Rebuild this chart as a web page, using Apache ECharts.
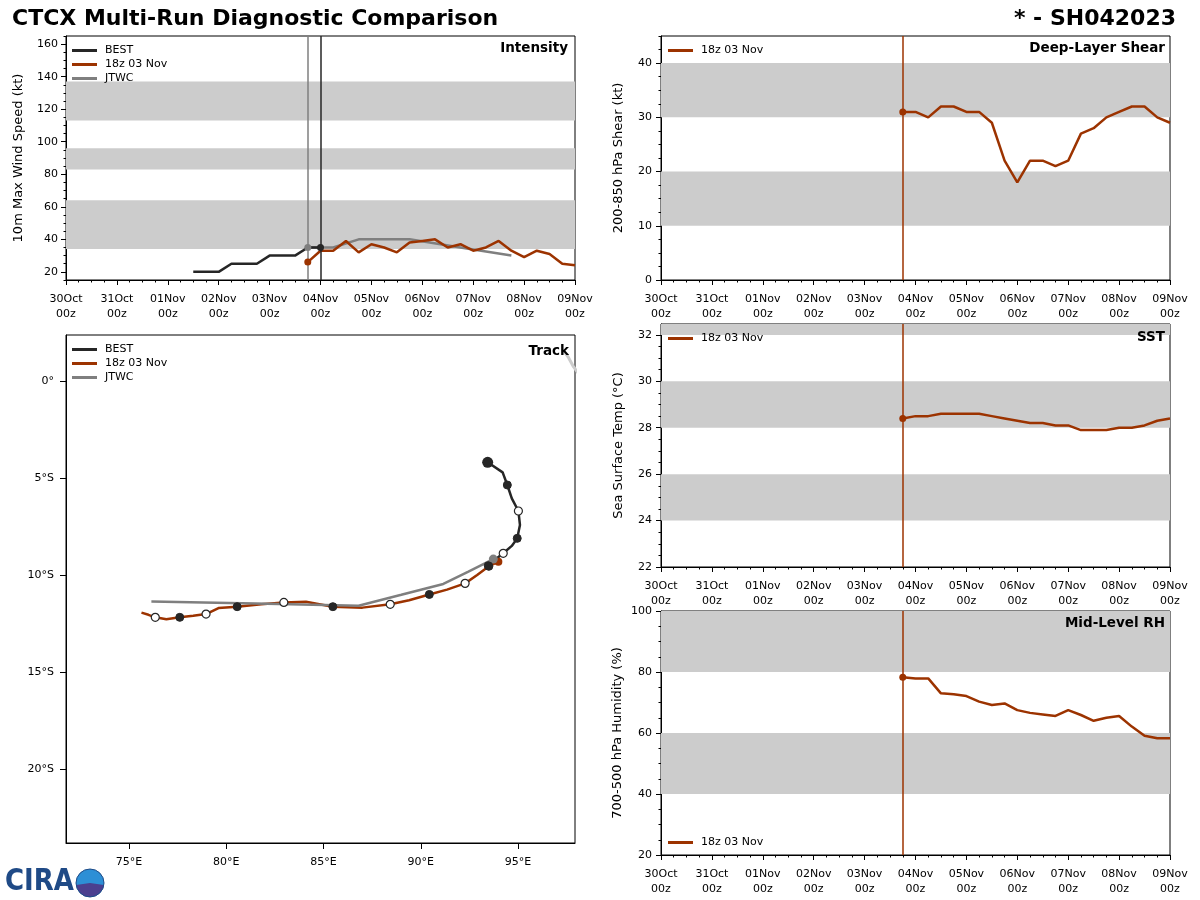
<!DOCTYPE html>
<html>
<head>
<meta charset="utf-8">
<title>CTCX Multi-Run Diagnostic Comparison</title>
<script src="https://cdn.jsdelivr.net/npm/echarts@6/dist/echarts.min.js"></script>
<style>
  html, body { margin: 0; padding: 0; background: #fff; }
  #chart { width: 1200px; height: 900px; }
</style>
</head>
<body>
<div id="chart"></div>
<script>
// tick labels (hours from 30Oct 00z, one label per day)
var dayLabels = ['30Oct', '31Oct', '01Nov', '02Nov', '03Nov', '04Nov', '05Nov', '06Nov', '07Nov', '08Nov', '09Nov'];

// best track
var bestHours = [60, 66, 72, 78, 84, 90, 96, 102, 108, 114, 120];
var bestVmax = [20, 20, 20, 25, 25, 25, 30, 30, 30, 35, 35];
var bestLon = [93.44, 94.21, 94.45, 94.68, 95.02, 95.10, 94.96, 94.68, 94.24, 93.80, 93.47];
var bestLat = [-4.19, -4.71, -5.36, -6.05, -6.70, -7.42, -8.11, -8.50, -8.88, -9.22, -9.52];

// 18z 03 Nov run
var fcstHours = [114, 120, 126, 132, 138, 144, 150, 156, 162, 168, 174, 180, 186, 192, 198, 204, 210, 216, 222, 228, 234, 240];
var fcstVmax = [26, 33, 33, 39, 32, 37, 35, 32, 38, 39, 40, 35, 37, 33, 35, 39, 33, 29, 33, 31, 25, 24];
var fcstShear = [31, 31, 30, 32, 32, 31, 31, 29, 22, 18, 22, 22, 21, 22, 27, 28, 30, 31, 32, 32, 30, 29];
var fcstSst = [28.4, 28.5, 28.5, 28.6, 28.6, 28.6, 28.6, 28.5, 28.4, 28.3, 28.2, 28.2, 28.1, 28.1, 27.9, 27.9, 27.9, 28.0, 28.0, 28.1, 28.3, 28.4];
var fcstRh = [78.3, 77.9, 77.9, 73.0, 72.7, 72.1, 70.3, 69.2, 69.7, 67.5, 66.6, 66.1, 65.6, 67.5, 65.9, 64.0, 65.0, 65.6, 62.1, 59.1, 58.3, 58.3];
var fcstLon = [93.99, 93.50, 92.90, 92.28, 91.35, 90.44, 89.40, 88.43, 87.00, 85.48, 84.10, 82.96, 81.80, 80.56, 79.60, 78.96, 78.30, 77.61, 76.92, 76.35, 76.00, 75.64];
var fcstLat = [-9.31, -9.55, -10.00, -10.43, -10.75, -11.00, -11.30, -11.51, -11.68, -11.63, -11.38, -11.41, -11.50, -11.63, -11.70, -12.01, -12.10, -12.18, -12.28, -12.18, -12.05, -11.94];

// JTWC forecast
var jtwcHours = [114, 126, 138, 150, 162, 186, 210];
var jtwcVmax = [35, 35, 40, 40, 40, 35, 30];
var jtwcLon = [93.73, 92.45, 91.16, 89.00, 86.80, 81.50, 76.15];
var jtwcLat = [-9.18, -9.82, -10.46, -11.02, -11.58, -11.47, -11.37];

// faint track cut by the top-right corner of the map
var otherLon = [97.31, 97.60, 97.83, 98.10];
var otherLat = [1.60, 1.20, 0.77, 0.40];

// shaded ranges
var vmaxBands = [[34, 64], [83, 96], [113, 137]];
var shearBands = [[10, 20], [30, 40]];
var sstBands = [[24, 26], [28, 30], [32, 34]];
var rhBands = [[40, 60], [80, 100]];

var BLACK = '#262626', RED = '#9c3300', GRAY = '#7f7f7f';
var FONT = 'DejaVu Sans';

var chart = echarts.init(document.getElementById('chart'));

function pairs(xs, ys) {
    return xs.map(function (x, i) { return [x, ys[i]]; });
}
function steps(a, b, s) {
    var out = [];
    for (var v = a; v <= b + 1e-9; v += s) out.push(Math.round(v * 100) / 100);
    return out;
}
function bands(list, max) {
    return list.map(function (b) { return [{ yAxis: b[0] }, { yAxis: Math.min(b[1], max) }]; });
}

var tickLabel = { color: '#000', fontFamily: FONT, fontSize: 11 };

function timeAxis(grid) {
    return {
        type: 'value', gridIndex: grid, min: 0, max: 240, interval: 24,
        axisLine: { onZero: false, lineStyle: { color: '#000', width: 1 } },
        axisTick: { length: 5, lineStyle: { color: '#000' } },
        minorTick: { show: true, splitNumber: 4, length: 2.5, lineStyle: { color: '#000' } },
        splitLine: { show: false },
        axisLabel: Object.assign({
            lineHeight: 15, margin: 12,
            formatter: function (v) { return dayLabels[Math.round(v / 24)] + '\n00z'; }
        }, tickLabel)
    };
}
function majorY(grid, min, max, ticks, name, gap, margin) {
    return {
        type: 'value', gridIndex: grid, min: min, max: max, position: 'left',
        name: name, nameLocation: 'middle', nameGap: gap,
        nameTextStyle: { color: '#000', fontFamily: FONT, fontSize: 13 },
        axisLine: { show: true, onZero: false, lineStyle: { color: '#000', width: 1 } },
        axisTick: { show: true, length: 5, customValues: ticks, lineStyle: { color: '#000' } },
        axisLabel: Object.assign({ customValues: ticks, margin: margin }, tickLabel),
        splitLine: { show: false }
    };
}
function minorY(grid, min, max, ticks) {
    return {
        type: 'value', gridIndex: grid, min: min, max: max, position: 'left', offset: 0,
        axisLine: { show: false },
        axisTick: { show: true, length: 2.5, customValues: ticks, lineStyle: { color: '#000' } },
        axisLabel: { show: false },
        splitLine: { show: false }
    };
}
function bandSeries(x, y, list, max) {
    return {
        type: 'line', xAxisIndex: x, yAxisIndex: y, data: [], z: 1, silent: true,
        markArea: { silent: true, itemStyle: { color: '#cccccc' }, data: bands(list, max) }
    };
}
function vline(hour, color) {
    return {
        silent: true, symbol: 'none', animation: false,
        label: { show: false }, lineStyle: { color: color, width: 1.5, type: 'solid' },
        data: [{ xAxis: hour }]
    };
}
function lineSeries(name, x, y, data, color, extra) {
    return Object.assign({
        name: name, type: 'line', xAxisIndex: x, yAxisIndex: y, data: data,
        symbol: 'none', z: 3, clip: true,
        lineStyle: { color: color, width: 2.5 }, itemStyle: { color: color }
    }, extra || {});
}
function dots(x, y, data, color, size) {
    return {
        type: 'scatter', xAxisIndex: x, yAxisIndex: y, data: data, z: 5, silent: true,
        symbol: 'circle', symbolSize: size, itemStyle: { color: color, borderWidth: 0, opacity: 1 }
    };
}

// track markers: filled at 00z, open at 12z
function trackMarks(hours, lons, lats, from, to) {
    var out = [];
    for (var i = from; i < to; i++) {
        var h = hours[i] % 24;
        if (h === 0) out.push({ value: [lons[i], lats[i]], itemStyle: { color: BLACK, borderColor: BLACK, borderWidth: 1, opacity: 1 } });
        else if (h === 12) out.push({ value: [lons[i], lats[i]], itemStyle: { color: '#fff', borderColor: BLACK, borderWidth: 1.2, opacity: 1 } });
    }
    return out;
}

var legendItem = {
    icon: 'rect', itemWidth: 25, itemHeight: 3, itemGap: 3, orient: 'vertical', padding: 0,
    textStyle: { color: '#000', fontFamily: FONT, fontSize: 11, lineHeight: 11, padding: [0, 0, 0, 3] },
    selectedMode: false
};

var panelTitle = { fontFamily: FONT, fontSize: 13.5, fontWeight: 'bold', color: '#000' };
var mainTitle = { fontFamily: FONT, fontSize: 22, fontWeight: 'bold', color: '#000' };

var n = fcstHours.length;

var option = {
    backgroundColor: '#fff',
    animation: false,
    title: [
        { text: 'CTCX Multi-Run Diagnostic Comparison', left: 12, top: 8, padding: 0, textStyle: mainTitle },
        { text: '* - SH042023', right: 24, top: 8, padding: 0, textStyle: mainTitle },
        { text: 'Intensity', right: 632, top: 41, padding: 0, textStyle: panelTitle },
        { text: 'Track', right: 631, top: 344, padding: 0, textStyle: panelTitle },
        { text: 'Deep-Layer Shear', right: 35, top: 41, padding: 0, textStyle: panelTitle },
        { text: 'SST', right: 35, top: 330, padding: 0, textStyle: panelTitle },
        { text: 'Mid-Level RH', right: 35, top: 616, padding: 0, textStyle: panelTitle }
    ],
    legend: [
        Object.assign({ left: 72, top: 45, data: ['BEST', '18z 03 Nov', 'JTWC'] }, legendItem),
        Object.assign({ left: 72, top: 344, data: ['BEST', '18z 03 Nov', 'JTWC'] }, legendItem),
        Object.assign({ left: 668, top: 45, data: ['18z 03 Nov'] }, legendItem),
        Object.assign({ left: 668, top: 333, data: ['18z 03 Nov'] }, legendItem),
        Object.assign({ left: 668, top: 837, data: ['18z 03 Nov'] }, legendItem)
    ],
    grid: [
        { left: 66, top: 36, width: 509, height: 244, show: true, borderColor: '#000', borderWidth: 1 },
        { left: 66, top: 335, width: 509, height: 508, show: true, borderColor: '#000', borderWidth: 1 },
        { left: 661, top: 36, width: 509, height: 244, show: true, borderColor: '#000', borderWidth: 1 },
        { left: 661, top: 324, width: 509, height: 243, show: true, borderColor: '#000', borderWidth: 1 },
        { left: 661, top: 611, width: 509, height: 244, show: true, borderColor: '#000', borderWidth: 1 }
    ],
    xAxis: [
        timeAxis(0),
        {
            type: 'value', gridIndex: 1, min: 71.76, max: 97.93,
            axisLine: { onZero: false, lineStyle: { color: '#000' } },
            axisTick: { length: 6, customValues: [75, 80, 85, 90, 95], lineStyle: { color: '#000' } },
            axisLabel: Object.assign({ customValues: [75, 80, 85, 90, 95], margin: 14, formatter: function (v) { return v + '°E'; } }, tickLabel),
            splitLine: { show: false }
        },
        timeAxis(2),
        timeAxis(3),
        timeAxis(4)
    ],
    yAxis: [
        majorY(0, 15, 165, steps(20, 160, 20), '10m Max Wind Speed (kt)', 41, 8),
        minorY(0, 15, 165, steps(15, 165, 5)),
        {
            type: 'value', gridIndex: 1, min: -23.81, max: 2.37,
            axisLine: { onZero: false, lineStyle: { color: '#000' } },
            axisTick: { length: 6, customValues: [0, -5, -10, -15, -20], lineStyle: { color: '#000' } },
            axisLabel: Object.assign({
                customValues: [0, -5, -10, -15, -20], margin: 12,
                formatter: function (v) { return v === 0 ? '0°' : (-v) + '°S'; }
            }, tickLabel),
            splitLine: { show: false }
        },
        majorY(2, 0, 45, steps(0, 40, 10), '200-850 hPa Shear (kt)', 36, 9),
        minorY(2, 0, 45, steps(0, 45, 2.5)),
        majorY(3, 22, 32.47, steps(22, 32, 2), 'Sea Surface Temp (°C)', 36, 9),
        minorY(3, 22, 32.47, steps(22, 32, 0.5)),
        majorY(4, 20, 100, steps(20, 100, 20), '700-500 hPa Humidity (%)', 37, 9),
        minorY(4, 20, 100, steps(20, 100, 5))
    ],
    series: [
        // intensity
        bandSeries(0, 0, vmaxBands, 165),
        lineSeries('JTWC', 0, 0, pairs(jtwcHours, jtwcVmax), GRAY, { markLine: vline(jtwcHours[0], GRAY) }),
        lineSeries('BEST', 0, 0, pairs(bestHours, bestVmax), BLACK, { markLine: vline(bestHours[bestHours.length - 1], BLACK) }),
        lineSeries('18z 03 Nov', 0, 0, pairs(fcstHours, fcstVmax), RED),
        dots(0, 0, [[jtwcHours[0], jtwcVmax[0]]], GRAY, 7),
        dots(0, 0, [[bestHours[bestHours.length - 1], bestVmax[bestVmax.length - 1]]], BLACK, 7),
        dots(0, 0, [[fcstHours[0], fcstVmax[0]]], RED, 7),

        // track
        lineSeries('other', 1, 2, pairs(otherLon, otherLat), '#cccccc', { lineStyle: { color: '#cccccc', width: 3 } }),
        lineSeries('BEST', 1, 2, pairs(bestLon, bestLat), BLACK),
        lineSeries('18z 03 Nov', 1, 2, pairs(fcstLon, fcstLat), RED),
        lineSeries('JTWC', 1, 2, pairs(jtwcLon, jtwcLat), GRAY),
        dots(1, 2, [[fcstLon[0], fcstLat[0]]], RED, 8),
        dots(1, 2, [[jtwcLon[0], jtwcLat[0]]], GRAY, 9),
        dots(1, 2, trackMarks(bestHours, bestLon, bestLat, 1, bestHours.length), BLACK, 8),
        dots(1, 2, trackMarks(fcstHours, fcstLon, fcstLat, 1, n - 1), BLACK, 8),
        dots(1, 2, [[bestLon[0], bestLat[0]]], BLACK, 11),

        // shear
        bandSeries(2, 3, shearBands, 45),
        lineSeries('18z 03 Nov', 2, 3, pairs(fcstHours, fcstShear), RED, { markLine: vline(fcstHours[0], RED) }),
        dots(2, 3, [[fcstHours[0], fcstShear[0]]], RED, 7),

        // sst
        bandSeries(3, 5, sstBands, 32.47),
        lineSeries('18z 03 Nov', 3, 5, pairs(fcstHours, fcstSst), RED, { markLine: vline(fcstHours[0], RED) }),
        dots(3, 5, [[fcstHours[0], fcstSst[0]]], RED, 7),

        // rh
        bandSeries(4, 7, rhBands, 100),
        lineSeries('18z 03 Nov', 4, 7, pairs(fcstHours, fcstRh), RED, { markLine: vline(fcstHours[0], RED) }),
        dots(4, 7, [[fcstHours[0], fcstRh[0]]], RED, 7)
    ],
    graphic: [
        {
            type: 'text', left: 5, top: 866, scaleX: 0.84,
            style: { text: 'CIRA', fontFamily: FONT, fontSize: 31, fontWeight: 'bold', fill: '#1f4a86' }
        },
        {
            type: 'circle', shape: { cx: 90, cy: 883, r: 14 },
            style: { fill: '#2d8fd6' }
        },
        {
            type: 'sector', shape: { cx: 90, cy: 883, r: 14, startAngle: 0.15, endAngle: Math.PI - 0.15 },
            style: { fill: '#4b3f8f' }
        },
        {
            type: 'circle', shape: { cx: 90, cy: 883, r: 14 },
            style: { fill: 'none', stroke: '#1f4a86', lineWidth: 1 }
        }
    ]
};

chart.setOption(option);
</script>
</body>
</html>
